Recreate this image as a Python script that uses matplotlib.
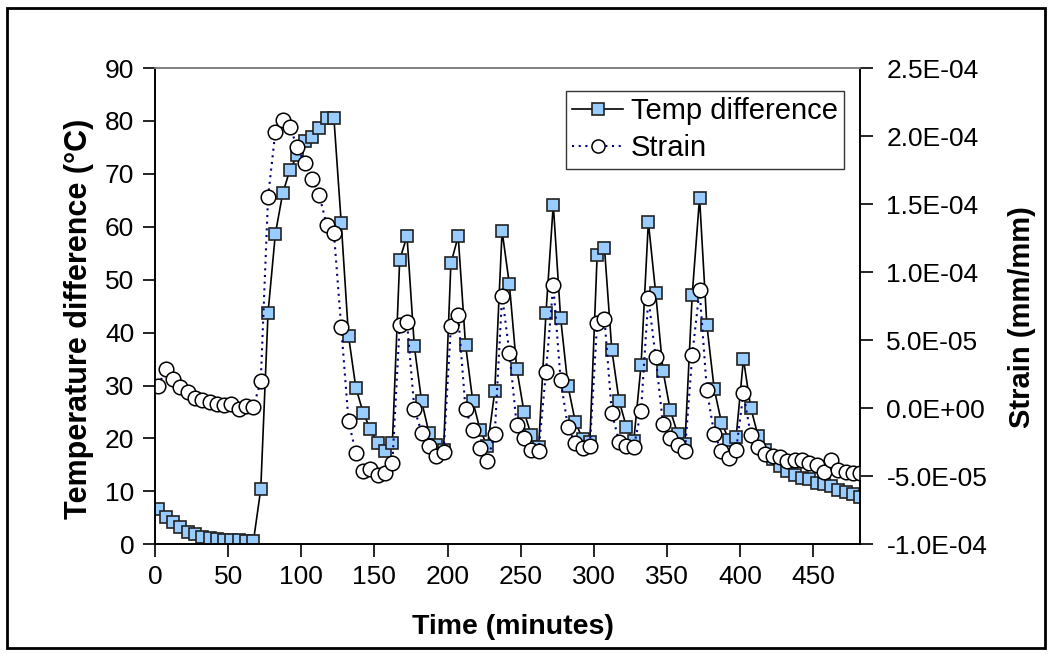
import numpy as np
import matplotlib
matplotlib.use("Agg")
import matplotlib.pyplot as plt
from matplotlib.ticker import FuncFormatter
from matplotlib.patches import Rectangle

plt.rcParams['font.family'] = ['Liberation Sans', 'DejaVu Sans']

# time of each reading (minutes), one reading every 5 min
time_min = np.arange(2.3, 483, 5.0)

# temperature difference (deg C)
temp_diff = [6.7, 5.2, 4.3, 3.3, 2.4, 1.9, 1.4, 1.1, 1.0, 0.9, 0.8, 0.75, 0.7, 0.6,
             10.4, 43.8, 58.7, 66.3, 70.8, 73.5, 76.3, 76.9, 78.7, 80.6, 80.6,
             60.8, 39.4, 29.6, 24.9, 21.7, 19.1, 17.7, 19.2,
             53.8, 58.2, 37.4, 27.0, 21.1, 18.7, 17.8,
             53.1, 58.2, 37.7, 27.0, 21.6, 18.5,
             28.9, 59.2, 49.1, 33.2, 25.0, 20.6, 18.4,
             43.7, 64.2, 42.8, 30.0, 23.2, 19.9, 19.3,
             54.7, 56.0, 36.8, 27.1, 22.2, 19.5,
             33.8, 60.9, 47.5, 32.8, 25.3, 20.9, 18.9,
             47.2, 65.5, 41.4, 29.4, 23.0, 19.8, 20.2,
             35.0, 25.8, 20.5, 17.8, 16.2, 14.8, 13.8, 13.1, 12.5, 12.3,
             11.6, 11.3, 11.0, 10.2, 9.9, 9.5, 8.9]

# strain (micro mm/mm)
strain_micro = [16.3, 29.1, 21.7, 15.5, 11.6, 7.7, 5.8, 4.2, 3.4, 2.3, 3.1, -0.8, 1.5, 1.1,
                19.8, 155.1, 203.3, 211.9, 206.4, 191.7, 180.0, 168.7, 156.7, 134.9, 129.1,
                59.8, -9.4, -32.7, -46.3, -44.8, -49.4, -47.9, -40.1,
                61.4, 63.3, -0.4, -17.9, -27.7, -35.1, -32.3,
                60.2, 68.4, -0.8, -16.0, -29.2, -38.6,
                -18.7, 82.8, 40.8, -12.5, -22.2, -30.4, -31.2,
                26.8, 90.9, 20.6, -13.7, -25.7, -29.6, -27.7,
                62.9, 65.7, -3.2, -24.6, -28.1, -28.8,
                -2.0, 81.2, 37.3, -11.7, -22.2, -27.3, -31.6,
                38.8, 87.1, 13.2, -18.7, -31.6, -36.6, -30.8,
                11.2, -19.9, -28.8, -33.9, -35.1, -36.2, -38.6, -38.2, -38.2, -40.1,
                -41.7, -47.1, -37.8, -45.6, -47.1, -47.5, -47.9]
strain = np.array(strain_micro) * 1e-6

x_ticks = [0, 50, 100, 150, 200, 250, 300, 350, 400, 450]
y_ticks = [0, 10, 20, 30, 40, 50, 60, 70, 80, 90]
strain_ticks = np.array([-10, -5, 0, 5, 10, 15, 20, 25]) * 1e-5

W, H = 1053, 655
fig = plt.figure(figsize=(W / 100, H / 100), dpi=100)
ax = fig.add_axes([155 / W, 1 - 544.3 / H, 705 / W, 476.3 / H])
ax2 = ax.twinx()

# outer frame of the chart
fig.patches.append(Rectangle((7 / W, 1 - 648 / H), 1038 / W, 640 / H, transform=fig.transFigure,
                             fill=False, edgecolor='black', linewidth=2))

l1, = ax.plot(time_min, temp_diff, color='black', lw=1.2, marker='s', ms=9,
              mfc='#99CCFF', mec='#222222', mew=1.2, label='Temp difference')
l2, = ax2.plot(time_min, strain, color='#000080', lw=1.5, ls=(0, (1, 2.2)), marker='o', ms=10.5,
               mfc='white', mec='black', mew=1.1, label='Strain')

ax.set_xlim(0, 482)
ax.set_ylim(0, 90)
ax2.set_ylim(-1e-4, 2.5e-4)
ax.set_xticks(x_ticks)
ax.set_yticks(y_ticks)
ax2.set_yticks(strain_ticks)
ax2.yaxis.set_major_formatter(FuncFormatter(lambda v, p: '{:.1E}'.format(round(v, 10))))

for a in (ax, ax2):
    a.tick_params(direction='out', length=9, width=1.2, labelsize=19, colors='black')
    for s in a.spines.values():
        s.set_linewidth(1.2)
    a.spines['top'].set_color('#808080')
ax.tick_params(axis='x', pad=6)
ax.tick_params(axis='y', pad=6)
ax2.tick_params(axis='y', pad=10)

ax.set_xlabel('Time (minutes)', fontsize=20.5, fontweight='bold')
ax.xaxis.set_label_coords((513 - 155) / 705, -(627 - 544.3) / 476.3)
ax.xaxis.label.set_va('center')
ax.set_ylabel('Temperature difference (°C)', fontsize=22, fontweight='bold')
ax.yaxis.set_label_coords(-(155 - 79) / 705, (544.3 - 319) / 476.3)
ax.yaxis.label.set_va('center')
ax2.set_ylabel('Strain (mm/mm)', fontsize=21, fontweight='bold')
ax2.yaxis.set_label_coords(1 + (1022 - 860) / 705, (544.3 - 317) / 476.3)
ax2.yaxis.label.set_va('center')

leg = ax2.legend([l1, l2], ['Temp difference', 'Strain'], loc='upper right',
                 bbox_to_anchor=(844 / W, 1 - 91 / H), bbox_transform=fig.transFigure,
                 fontsize=21, frameon=True, fancybox=False, borderaxespad=0,
                 handlelength=1.75, handletextpad=0.25, labelspacing=0.3,
                 borderpad=0.22, markerscale=0.9)
leg.get_frame().set_edgecolor('black')
leg.get_frame().set_linewidth(1.0)

fig.savefig('out.png', dpi=100)
